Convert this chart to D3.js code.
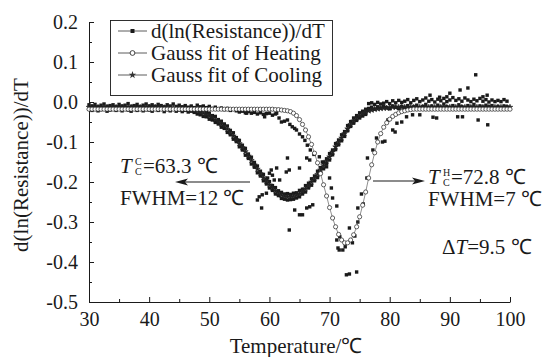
<!DOCTYPE html>
<html>
<head>
<meta charset="utf-8">
<script src="https://cdn.jsdelivr.net/npm/d3@7"></script>
<style>
  body { margin: 0; background: #fff; }
  svg { display: block; }
</style>
</head>
<body>
<div id="chart"></div>
<script>
// temperatures (deg C) at which both Gauss fits are drawn
const fitTemps = [
  30, 30.5, 31, 31.5, 32, 32.5, 33, 33.5, 34, 34.5, 35, 35.5, 36, 36.5, 37, 37.5, 38, 38.5, 39, 39.5,
  40, 40.5, 41, 41.5, 42, 42.5, 43, 43.5, 44, 44.5, 45, 45.5, 46, 46.5, 47, 47.5, 48, 48.5, 49, 49.5,
  50, 50.5, 51, 51.5, 52, 52.5, 53, 53.5, 54, 54.5, 55, 55.5, 56, 56.5, 57, 57.5, 58, 58.5, 59, 59.5,
  60, 60.5, 61, 61.5, 62, 62.5, 63, 63.5, 64, 64.5, 65, 65.5, 66, 66.5, 67, 67.5, 68, 68.5, 69, 69.5,
  70, 70.5, 71, 71.5, 72, 72.5, 73, 73.5, 74, 74.5, 75, 75.5, 76, 76.5, 77, 77.5, 78, 78.5, 79, 79.5,
  80, 80.5, 81, 81.5, 82, 82.5, 83, 83.5, 84, 84.5, 85, 85.5, 86, 86.5, 87, 87.5, 88, 88.5, 89, 89.5,
  90, 90.5, 91, 91.5, 92, 92.5, 93, 93.5, 94, 94.5, 95, 95.5, 96, 96.5, 97, 97.5, 98, 98.5, 99, 99.5,
  100
];

// Gauss fit of Heating (open circles)
const heatFit = [
  -0.018, -0.018, -0.018, -0.018, -0.018, -0.018, -0.018, -0.018, -0.018, -0.018, -0.018, -0.018, -0.018, -0.018, -0.018, -0.018, -0.018, -0.018, -0.018, -0.018,
  -0.018, -0.018, -0.018, -0.018, -0.018, -0.018, -0.018, -0.018, -0.018, -0.018, -0.018, -0.018, -0.018, -0.018, -0.018, -0.018, -0.018, -0.018, -0.018, -0.018,
  -0.018, -0.018, -0.018, -0.018, -0.018, -0.018, -0.018, -0.018, -0.018, -0.018, -0.018, -0.018, -0.018, -0.018, -0.018, -0.018, -0.018, -0.018, -0.018, -0.018,
  -0.018, -0.018, -0.019, -0.019, -0.020, -0.021, -0.022, -0.024, -0.028, -0.034, -0.044, -0.056, -0.070, -0.087, -0.106, -0.128, -0.152, -0.179, -0.207, -0.235,
  -0.264, -0.290, -0.312, -0.331, -0.345, -0.352, -0.352, -0.345, -0.332, -0.312, -0.287, -0.258, -0.225, -0.190, -0.157, -0.127, -0.100, -0.079, -0.063, -0.052,
  -0.043, -0.036, -0.031, -0.027, -0.024, -0.022, -0.020, -0.019, -0.018, -0.018, -0.018, -0.018, -0.018, -0.018, -0.018, -0.018, -0.018, -0.018, -0.018, -0.018,
  -0.018, -0.018, -0.018, -0.018, -0.018, -0.018, -0.018, -0.018, -0.018, -0.018, -0.018, -0.018, -0.018, -0.018, -0.018, -0.018, -0.018, -0.018, -0.018, -0.018,
  -0.018
];

// Gauss fit of Cooling (stars)
const coolFit = [
  -0.013, -0.013, -0.013, -0.013, -0.013, -0.013, -0.013, -0.013, -0.013, -0.013, -0.013, -0.013, -0.013, -0.013, -0.013, -0.013, -0.013, -0.013, -0.013, -0.013,
  -0.013, -0.013, -0.013, -0.013, -0.014, -0.014, -0.014, -0.015, -0.015, -0.015, -0.016, -0.016, -0.017, -0.018, -0.020, -0.021, -0.023, -0.026, -0.028, -0.031,
  -0.035, -0.039, -0.044, -0.049, -0.055, -0.061, -0.068, -0.076, -0.085, -0.094, -0.104, -0.114, -0.124, -0.135, -0.146, -0.157, -0.168, -0.179, -0.189, -0.199,
  -0.207, -0.215, -0.222, -0.228, -0.233, -0.236, -0.237, -0.237, -0.236, -0.233, -0.229, -0.224, -0.217, -0.209, -0.200, -0.191, -0.181, -0.170, -0.159, -0.148,
  -0.137, -0.125, -0.112, -0.101, -0.090, -0.079, -0.067, -0.056, -0.047, -0.040, -0.034, -0.029, -0.025, -0.022, -0.020, -0.018, -0.017, -0.016, -0.015, -0.015,
  -0.014, -0.013, -0.013, -0.013, -0.013, -0.013, -0.013, -0.013, -0.013, -0.013, -0.013, -0.013, -0.013, -0.013, -0.013, -0.013, -0.013, -0.013, -0.013, -0.013,
  -0.013, -0.013, -0.013, -0.013, -0.013, -0.013, -0.013, -0.013, -0.013, -0.013, -0.013, -0.013, -0.013, -0.013, -0.013, -0.013, -0.013, -0.013, -0.013, -0.013,
  -0.013
];

// d(ln(Resistance))/dT measured points [T, value]
const measured = [
  // flat part, low temperature
  [30, -0.007], [30, -0.018], [30.5, -0.010], [30.5, -0.021], [31, -0.006], [31, -0.016], [31.5, -0.012], [31.5, -0.022],
  [32, -0.008], [32, -0.019], [32.5, -0.005], [32.5, -0.017], [33, -0.011], [33, -0.023], [33.5, -0.009], [33.5, -0.020],
  [34, -0.007], [34, -0.016], [34.5, -0.012], [34.5, -0.021], [35, -0.006], [35, -0.018], [35.5, -0.010], [35.5, -0.022],
  [36, -0.008], [36, -0.017], [36.5, -0.004], [36.5, -0.020], [37, -0.011], [37, -0.023], [37.5, -0.009], [37.5, -0.018],
  [38, -0.006], [38, -0.021], [38.5, -0.012], [38.5, -0.017], [39, -0.008], [39, -0.022], [39.5, -0.005], [39.5, -0.019],
  [40, -0.010], [40, -0.020], [40.5, -0.007], [40.5, -0.023], [41, -0.011], [41, -0.018], [41.5, -0.006], [41.5, -0.021],
  [42, -0.009], [42, -0.017], [42.5, -0.012], [42.5, -0.024], [43, -0.007], [43, -0.019], [43.5, -0.010], [43.5, -0.022],
  [44, -0.005], [44, -0.018], [44.5, -0.011], [44.5, -0.023], [45, -0.008], [45, -0.020], [45.5, -0.012], [45.5, -0.024],
  [46, -0.009], [46, -0.021], [46.5, -0.013], [46.5, -0.025], [47, -0.010], [47, -0.023], [47.5, -0.014], [47.5, -0.026],
  // heating run, still flat
  [48, -0.008], [48.5, -0.012], [49, -0.010], [49.5, -0.014], [50, -0.011], [50.5, -0.016], [51, -0.013], [51.5, -0.017],
  [52, -0.015], [52.5, -0.019], [53, -0.016], [53.5, -0.021], [54, -0.018], [54.5, -0.022], [55, -0.025], [55.2, -0.020],
  [55.5, -0.023], [56, -0.027], [56.2, -0.028], [56.5, -0.024], [57, -0.028], [57.5, -0.026], [58, -0.030], [58.5, -0.027],
  [59, -0.031], [59.2, -0.037], [59.5, -0.029], [60, -0.028], [60.5, -0.033], [61, -0.030], [61.2, -0.028],
  // heating run, dip
  [61.6, -0.040], [62, -0.050], [62.5, -0.048], [63, -0.045], [63.4, -0.056], [63.8, -0.062], [64.2, -0.066], [64.5, -0.070],
  [65, -0.080], [65.5, -0.087], [65.9, -0.096], [66.3, -0.108], [66.8, -0.120], [67.4, -0.131], [68.3, -0.137], [68.8, -0.150],
  [69.5, -0.162], [70, -0.190], [70.3, -0.215], [70.5, -0.240], [71.2, -0.260], [71.2, -0.345], [71.4, -0.365], [71.7, -0.337],
  [71.6, -0.370], [72.2, -0.370], [72.6, -0.362], [72.8, -0.432], [73.3, -0.430], [74.5, -0.425], [73.3, -0.315], [73.8, -0.352],
  [74.2, -0.335], [74.7, -0.300], [74.7, -0.265], [75.3, -0.230], [75.6, -0.255], [76.2, -0.190], [76.3, -0.140], [77.2, -0.120],
  [77.8, -0.090], [78.8, -0.100], [79.2, -0.098], [79.7, -0.045], [80.5, -0.070], [80.9, -0.075], [81.2, -0.053], [82, -0.050],
  [82.8, -0.037], [83.8, -0.032],
  // scatter between and below the curves
  [60, -0.178], [60.3, -0.170], [60.5, -0.183], [59.7, -0.190], [60.8, -0.195], [61.7, -0.195], [61.2, -0.165], [62.8, -0.175],
  [63, -0.140], [63.3, -0.170], [65, -0.165], [66.2, -0.140], [66.7, -0.145],
  [58, -0.245], [58.3, -0.237], [58.8, -0.232], [59.5, -0.228], [58.7, -0.265], [64.2, -0.270], [65, -0.282], [65.5, -0.282],
  [66.2, -0.265], [66.7, -0.262], [67.2, -0.257], [63.3, -0.320],
  // cooling run
  [48, -0.017], [48, -0.030], [48.5, -0.021], [48.5, -0.032], [49, -0.020], [49, -0.036], [49.5, -0.026], [49.5, -0.037],
  [50, -0.028], [50, -0.043], [50.5, -0.034], [50.5, -0.045], [51, -0.036], [51, -0.051], [51.5, -0.044], [51.5, -0.055],
  [52, -0.048], [52, -0.063], [52.5, -0.055], [52.5, -0.066], [53, -0.060], [53, -0.076], [53.5, -0.071], [53.5, -0.082],
  [54, -0.077], [54, -0.093], [54.5, -0.089], [54.5, -0.099], [55, -0.096], [55, -0.112], [55.5, -0.108], [55.5, -0.120],
  [56, -0.116], [56, -0.133], [56.5, -0.130], [56.5, -0.141], [57, -0.138], [57, -0.155], [57.5, -0.151], [57.5, -0.163],
  [58, -0.160], [58, -0.177], [58.5, -0.173], [58.5, -0.185], [59, -0.181], [59, -0.197], [59.5, -0.193], [59.5, -0.205],
  [60, -0.199], [60, -0.215], [60.5, -0.209], [60.5, -0.221], [61, -0.214], [61, -0.230], [61.5, -0.222], [61.5, -0.234],
  [62, -0.226], [62, -0.241], [62.5, -0.230], [62.5, -0.243], [63, -0.229], [63, -0.245], [63.5, -0.231], [63.5, -0.244],
  [64, -0.228], [64, -0.243], [64.5, -0.227], [64.5, -0.240], [65, -0.221], [65, -0.237], [65.5, -0.218], [65.5, -0.230],
  [66, -0.209], [66, -0.225], [66.5, -0.203], [66.5, -0.215], [67, -0.192], [67, -0.208], [67.5, -0.185], [67.5, -0.197],
  [68, -0.173], [68, -0.189], [68.5, -0.164], [68.5, -0.176], [69, -0.151], [69, -0.167], [69.5, -0.142], [69.5, -0.154],
  [70, -0.129], [70, -0.145], [70.5, -0.120], [70.5, -0.132], [71, -0.104], [71, -0.119], [71.5, -0.095], [71.5, -0.107],
  [72, -0.082], [72, -0.097], [72.5, -0.074], [72.5, -0.086], [73, -0.059], [73, -0.072], [73.5, -0.049], [73.5, -0.061],
  [74, -0.040], [74, -0.053], [74.5, -0.034], [74.5, -0.046], [75, -0.027], [75, -0.040], [75.5, -0.023], [75.5, -0.035],
  [76, -0.018], [76, -0.031],
  // flat part, high temperature
  [76.5, -0.004], [76.5, -0.016], [77, -0.002], [77, -0.013], [77.5, -0.006], [77.5, -0.018], [78, -0.001], [78, -0.012],
  [78.5, -0.005], [78.5, -0.015], [79, -0.003], [79, -0.011], [79.5, 0.001], [79.5, -0.014], [80, -0.004], [80, -0.017],
  [80.5, 0.003], [80.5, -0.010], [81, -0.002], [81, -0.013], [81.5, 0.004], [81.5, -0.016], [82, -0.001], [82, -0.011],
  [82.5, 0.002], [82.5, -0.014], [83, 0.006], [83, -0.009], [83.5, -0.002], [83.5, -0.017], [84, 0.004], [84, -0.012],
  [84.5, 0.008], [84.5, -0.008], [85, 0.001], [85, -0.015], [85.5, 0.005], [85.5, -0.011], [86, 0.010], [86, -0.006],
  [86.5, 0.002], [86.5, -0.014], [87, 0.006], [87, -0.010], [87.5, 0.000], [87.5, -0.016], [88, 0.007], [88, -0.008],
  [88.5, 0.003], [88.5, -0.013], [89, 0.009], [89, -0.005], [89.5, 0.001], [89.5, -0.012], [90, 0.005], [90, -0.017],
  [90.5, 0.011], [90.5, -0.009], [91, 0.004], [91, -0.014], [91.5, 0.008], [91.5, -0.007], [92, 0.002], [92, -0.012],
  [92.5, 0.010], [92.5, -0.016], [93, 0.005], [93, -0.009], [93.5, 0.001], [93.5, -0.013], [94, 0.007], [94, -0.006],
  [94.5, 0.003], [94.5, -0.015], [95, 0.009], [95, -0.010], [95.5, 0.002], [95.5, -0.013], [96, 0.006], [96, -0.008],
  [96.5, 0.000], [96.5, -0.012], [97, 0.005], [97, -0.009], [97.5, 0.001], [97.5, -0.014], [98, 0.004], [98, -0.011],
  [98.5, 0.001], [98.5, -0.015], [99, 0.006], [99, -0.010], [99.5, 0.002], [99.5, -0.012],
  // outliers, high temperature
  [94.3, 0.068], [91.7, 0.030], [93, 0.035], [90, 0.022], [88.3, 0.012], [86.7, 0.017], [96.2, 0.017], [89.5, 0.013],
  [95.5, 0.013], [94.7, -0.045], [96.3, -0.057], [91.3, -0.037], [92.1, -0.037], [87.8, -0.040], [87.2, -0.038], [85, -0.032]
];

const xTicks = [30, 40, 50, 60, 70, 80, 90, 100];
const xMinorTicks = [35, 45, 55, 65, 75, 85, 95];
const yTicks = [-0.5, -0.4, -0.3, -0.2, -0.1, 0.0, 0.1, 0.2];
const yMinorTicks = [-0.45, -0.35, -0.25, -0.15, -0.05, 0.05, 0.15];
const legendLabels = ['d(ln(Resistance))/dT', 'Gauss fit of Heating', 'Gauss fit of Cooling'];

const width = 547;
const height = 357;
const serif = '"Liberation Serif"';
const ink = '#1a1a1a';

const svg = d3.select('#chart')
  .append('svg')
  .attr('width', width)
  .attr('height', height)
  .attr('font-family', serif)
  .style('background', '#fff');

const x = d3.scaleLinear().domain([30, 100]).range([89, 510]);
const y = d3.scaleLinear().domain([-0.5, 0.2]).range([302, 22]);

// axes, ticks pointing inwards
const xAxis = svg.append('g')
  .attr('transform', `translate(0,${y(-0.5)})`)
  .call(d3.axisBottom(x).tickValues(xTicks).tickSize(-5).tickSizeOuter(0).tickPadding(10).tickFormat(d => d));
svg.append('g')
  .attr('transform', `translate(0,${y(-0.5)})`)
  .call(d3.axisBottom(x).tickValues(xMinorTicks).tickSize(-3).tickSizeOuter(0).tickFormat(''))
  .select('.domain').remove();

const yAxis = svg.append('g')
  .attr('transform', `translate(${x(30)},0)`)
  .call(d3.axisLeft(y).tickValues(yTicks).tickSize(-5).tickSizeOuter(0).tickPadding(11).tickFormat(d => d.toFixed(1)));
svg.append('g')
  .attr('transform', `translate(${x(30)},0)`)
  .call(d3.axisLeft(y).tickValues(yMinorTicks).tickSize(-3).tickSizeOuter(0).tickFormat(''))
  .select('.domain').remove();

svg.selectAll('.domain, .tick line').attr('stroke', ink).attr('stroke-width', 1);
[xAxis, yAxis].forEach(a => {
  a.attr('font-family', serif).attr('font-size', 20);
  a.selectAll('text').attr('fill', ink);
});

// axis titles
svg.append('text')
  .attr('x', 296)
  .attr('y', 353)
  .attr('text-anchor', 'middle')
  .attr('font-size', 21)
  .attr('fill', ink)
  .text('Temperature/℃');

svg.append('text')
  .attr('transform', 'translate(28,165) rotate(-90)')
  .attr('text-anchor', 'middle')
  .attr('font-size', 21)
  .attr('fill', ink)
  .text('d(ln(Resistance))/dT');

// series
const plot = svg.append('g');

plot.selectAll('rect.meas')
  .data(measured)
  .enter().append('rect')
  .attr('class', 'meas')
  .attr('x', d => x(d[0]) - 1.7)
  .attr('y', d => y(d[1]) - 1.7)
  .attr('width', 3.4)
  .attr('height', 3.4)
  .attr('fill', ink);

const coolPts = fitTemps.map((t, i) => [t, coolFit[i]]);
const heatPts = fitTemps.map((t, i) => [t, heatFit[i]]);
const line = d3.line().x(d => x(d[0])).y(d => y(d[1]));

plot.append('path')
  .attr('d', line(coolPts))
  .attr('fill', 'none')
  .attr('stroke', '#333')
  .attr('stroke-width', 0.8);
const star = d3.symbol().type(d3.symbolStar).size(10);
plot.selectAll('path.cool')
  .data(coolPts)
  .enter().append('path')
  .attr('class', 'cool')
  .attr('d', star)
  .attr('transform', d => `translate(${x(d[0])},${y(d[1])})`)
  .attr('fill', '#222')
  .attr('stroke', '#222')
  .attr('stroke-width', 0.6);

plot.append('path')
  .attr('d', line(heatPts))
  .attr('fill', 'none')
  .attr('stroke', '#444')
  .attr('stroke-width', 0.6);
plot.selectAll('circle.heat')
  .data(heatPts)
  .enter().append('circle')
  .attr('class', 'heat')
  .attr('cx', d => x(d[0]))
  .attr('cy', d => y(d[1]))
  .attr('r', 2.1)
  .attr('fill', '#fff')
  .attr('stroke', '#222')
  .attr('stroke-width', 0.7);

// legend
const legend = svg.append('g');
legend.append('rect')
  .attr('x', 110.5)
  .attr('y', 20.5)
  .attr('width', 222)
  .attr('height', 75)
  .attr('fill', '#fff')
  .attr('stroke', ink)
  .attr('stroke-width', 0.9);

legendLabels.forEach((label, i) => {
  const base = 38 + i * 22;
  const cy = base - 7;
  legend.append('line')
    .attr('x1', 118).attr('x2', 147)
    .attr('y1', cy).attr('y2', cy)
    .attr('stroke', '#333')
    .attr('stroke-width', 0.8);
  if (i === 0) {
    legend.append('rect')
      .attr('x', 130.5).attr('y', cy - 2)
      .attr('width', 4).attr('height', 4)
      .attr('fill', ink);
  } else if (i === 1) {
    legend.append('circle')
      .attr('cx', 132.5).attr('cy', cy)
      .attr('r', 2.4)
      .attr('fill', '#fff')
      .attr('stroke', ink)
      .attr('stroke-width', 0.8);
  } else {
    legend.append('path')
      .attr('d', d3.symbol().type(d3.symbolStar).size(18)())
      .attr('transform', `translate(132.5,${cy})`)
      .attr('fill', '#333');
  }
  legend.append('text')
    .attr('x', 151)
    .attr('y', base)
    .attr('font-size', 21)
    .attr('fill', ink)
    .text(label);
});

// annotations
function tcLabel(x0, base, sup, value) {
  const g = svg.append('g').attr('fill', ink);
  g.append('text')
    .attr('x', x0).attr('y', base)
    .attr('font-size', 21)
    .attr('font-style', 'italic')
    .text('T');
  g.append('text')
    .attr('x', x0 + 15).attr('y', base - 8)
    .attr('font-size', 10)
    .text(sup);
  g.append('text')
    .attr('x', x0 + 15).attr('y', base + 2)
    .attr('font-size', 10)
    .text('C');
  g.append('text')
    .attr('x', x0 + 23).attr('y', base)
    .attr('font-size', 21)
    .text(value);
}

function arrow(x1, x2, yy) {
  const dir = x2 > x1 ? 1 : -1;
  svg.append('line')
    .attr('x1', x1).attr('x2', x2 - dir * 10)
    .attr('y1', yy).attr('y2', yy)
    .attr('stroke', ink)
    .attr('stroke-width', 1.1);
  svg.append('path')
    .attr('d', `M${x2},${yy} L${x2 - dir * 13},${yy - 3.5} L${x2 - dir * 10},${yy} L${x2 - dir * 13},${yy + 3.5} Z`)
    .attr('fill', ink);
}

tcLabel(120, 173, 'C', '=63.3 ℃');
svg.append('text')
  .attr('x', 120).attr('y', 205)
  .attr('font-size', 21)
  .attr('fill', ink)
  .text('FWHM=12 ℃');
arrow(250, 175, 182);

tcLabel(428, 184, 'H', '=72.8 ℃');
svg.append('text')
  .attr('x', 428).attr('y', 206)
  .attr('font-size', 21)
  .attr('fill', ink)
  .text('FWHM=7 ℃');
arrow(373, 425, 181);

const dT = svg.append('text')
  .attr('x', 442).attr('y', 254)
  .attr('font-size', 21)
  .attr('fill', ink);
dT.append('tspan').text('Δ');
dT.append('tspan').attr('font-style', 'italic').text('T');
dT.append('tspan').text('=9.5 ℃');
</script>
</body>
</html>
